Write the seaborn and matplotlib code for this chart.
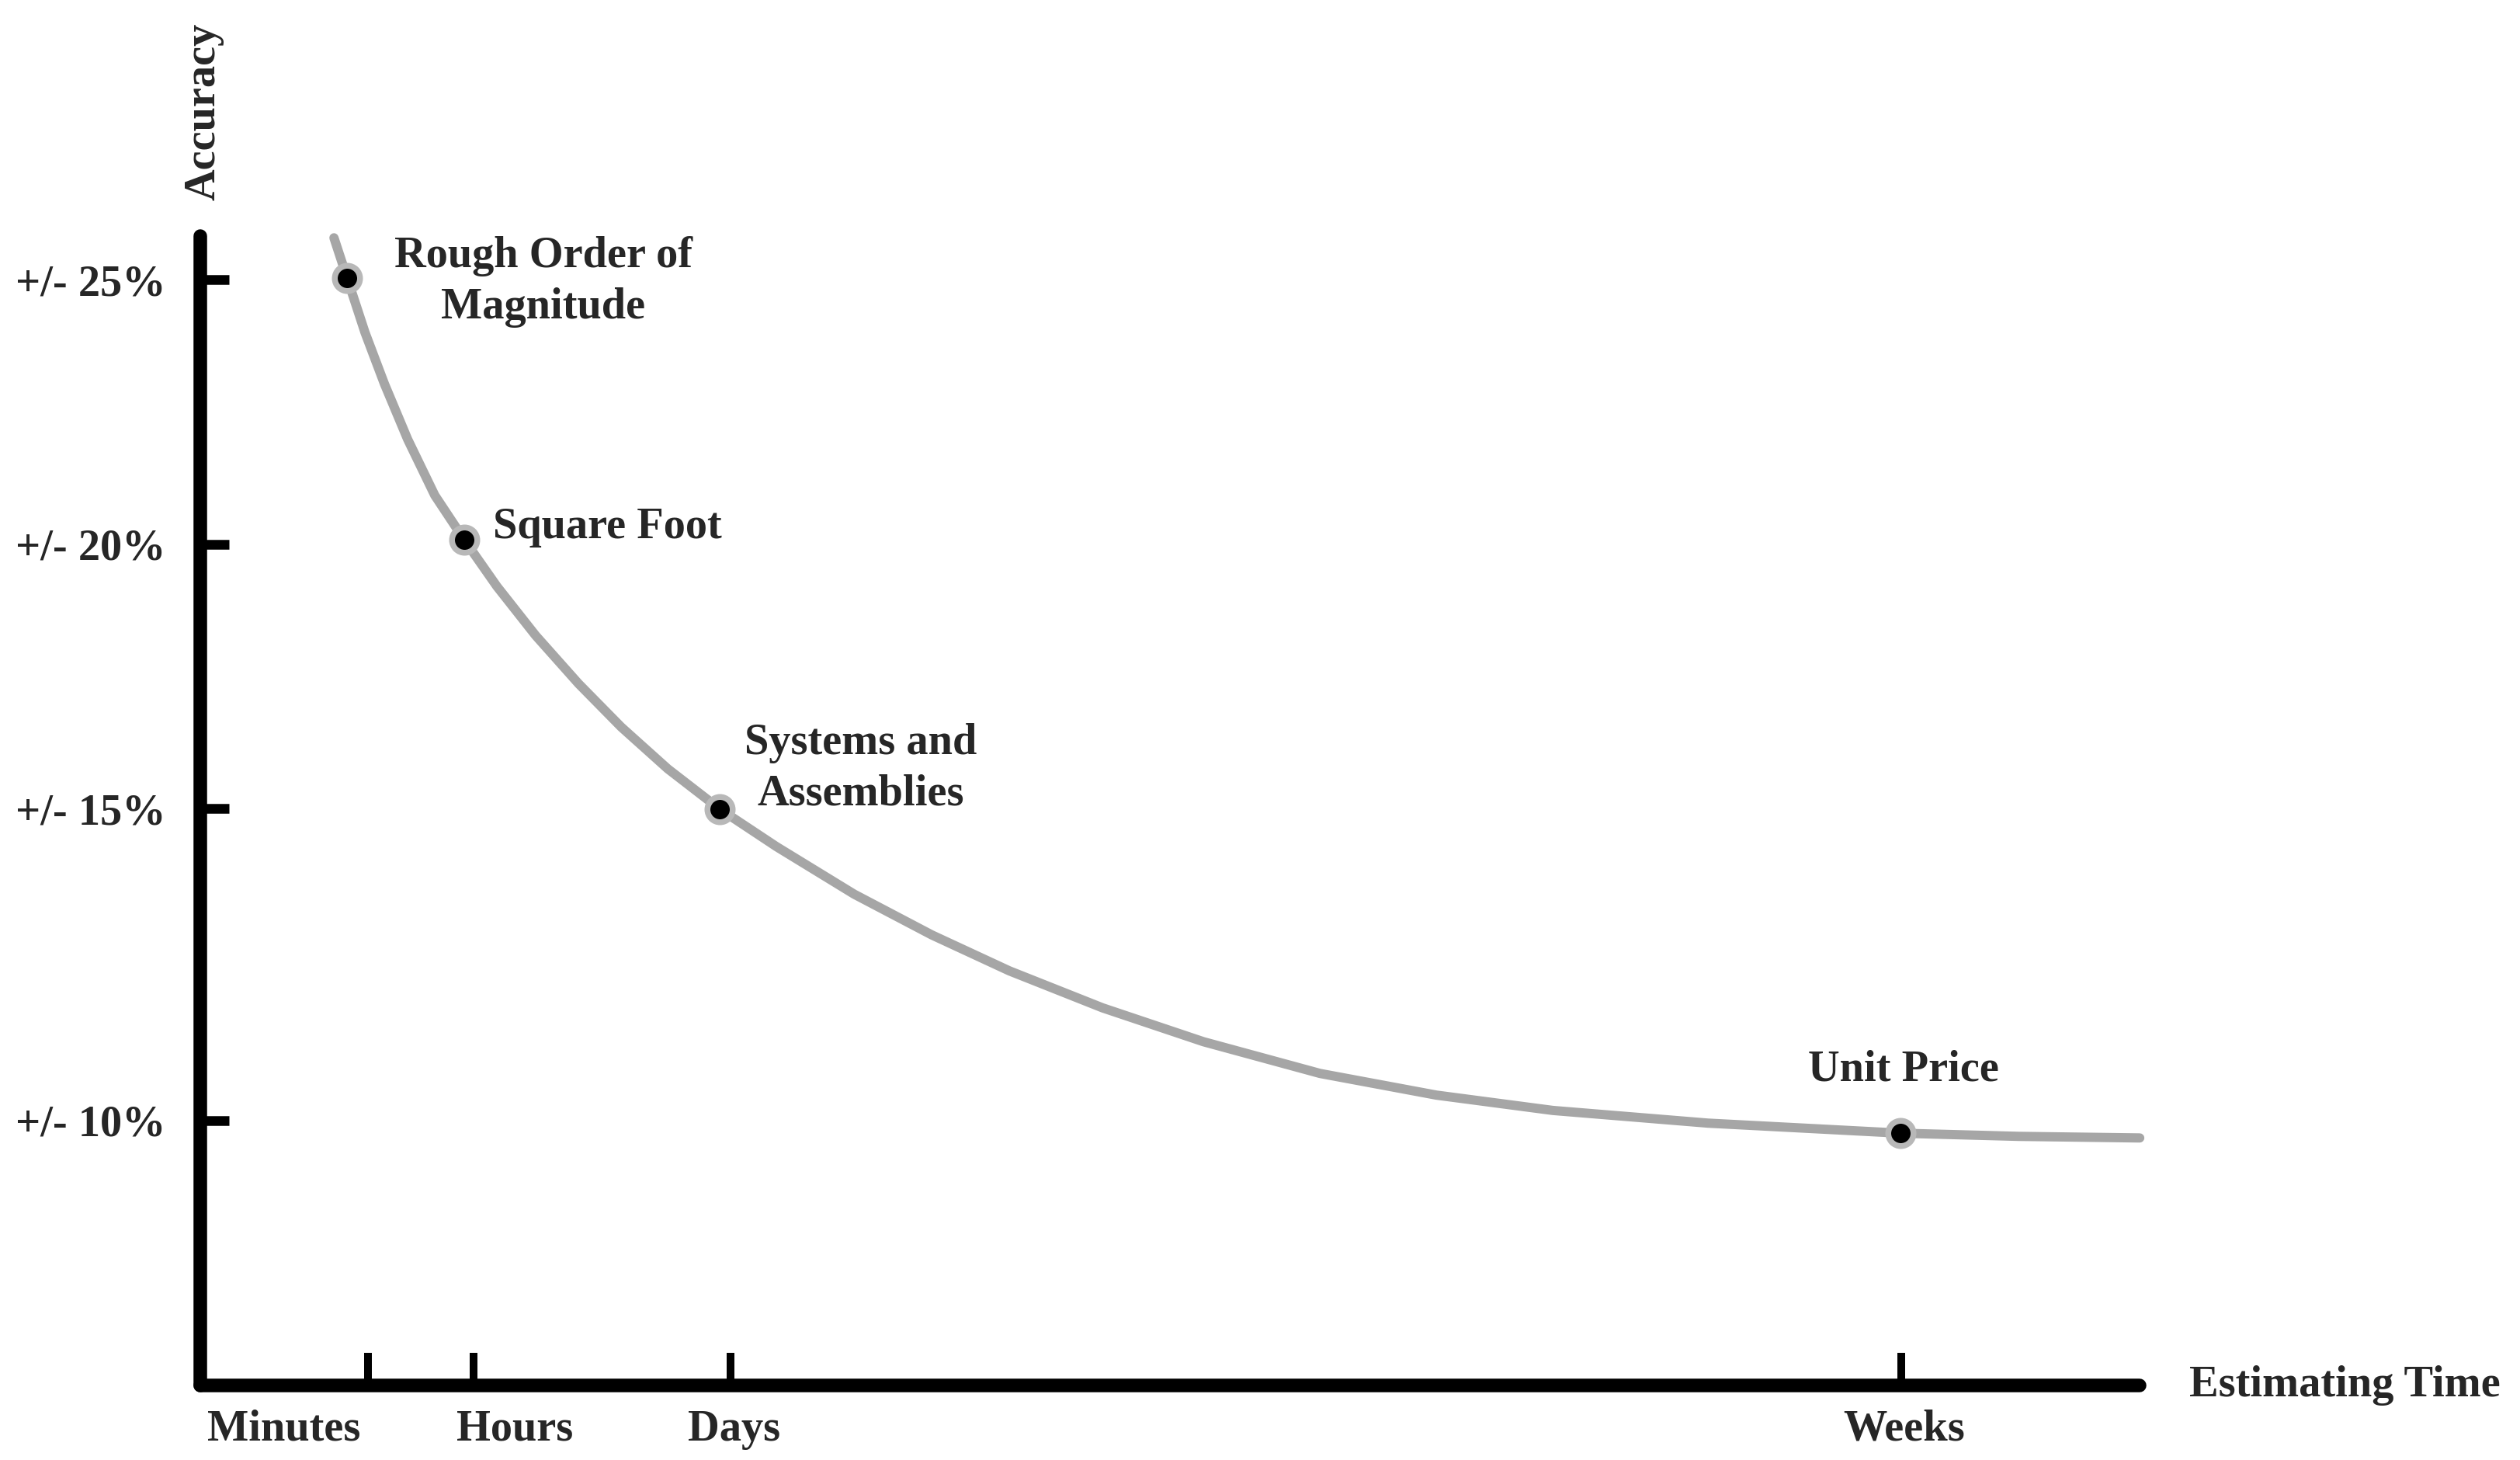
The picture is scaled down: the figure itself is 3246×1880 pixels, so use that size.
import numpy as np
import pandas as pd
import matplotlib
matplotlib.use("Agg")
import matplotlib.pyplot as plt
import seaborn as sns

# curve (x: estimating time, arbitrary units 0-100; y: accuracy scale)
curve_x = [6.89, 7.57, 8.49, 9.49, 10.69, 12.09, 13.61, 15.29, 17.29, 19.50, 21.70,
           24.10, 26.78, 29.70, 33.71, 37.71, 41.71, 46.52, 51.72, 57.73, 63.73,
           69.74, 77.74, 87.67, 93.76, 100.0]
curve_y = [25.79, 25.03, 24.00, 23.03, 21.98, 20.92, 20.08, 19.20, 18.27, 17.36, 16.54,
           15.75, 14.99, 14.28, 13.38, 12.61, 11.93, 11.23, 10.59, 9.99, 9.58,
           9.29, 9.05, 8.86, 8.80, 8.77]

# estimate methods
method_names = ["Rough Order of\nMagnitude", "Square Foot", "Systems and\nAssemblies", "Unit Price"]
method_x = [7.57, 13.61, 26.78, 87.67]
method_y = [25.03, 20.08, 14.99, 8.86]

# axis ticks
time_tick_x = [8.65, 14.09, 27.34, 87.71]
time_label_x = [4.32, 16.21, 27.54, 87.83]
time_labels = ["Minutes", "Hours", "Days", "Weeks"]
acc_tick_y = [25, 20, 15, 9.1]
acc_labels = ["+/- 25%", "+/- 20%", "+/- 15%", "+/- 10%"]

sns.set_theme(style="white")
plt.rcParams["font.family"] = ["Liberation Serif", "DejaVu Serif"]
plt.rcParams["font.weight"] = "bold"

fig = plt.figure(figsize=(16.23, 9.40), dpi=200)
ax = fig.add_axes([0.0795, 0.05106, 0.7696, 0.7875])

curve = pd.DataFrame({"x": curve_x, "y": curve_y})
sns.lineplot(data=curve, x="x", y="y", ax=ax, color="#a6a6a6", linewidth=4.3,
             estimator=None, sort=False, clip_on=False, solid_capstyle="round",
             solid_joinstyle="round")

pts = pd.DataFrame({"x": method_x, "y": method_y, "name": method_names})
sns.scatterplot(data=pts, x="x", y="y", ax=ax, s=137, color="black",
                edgecolor="#b8b8b8", linewidth=2.7, zorder=4, clip_on=False, legend=False)

# labels next to each point: offset in points, baseline of the last line
offsets = [(91, -18.7, "center"), (13.3, 0.7, "left"), (65.5, 1.8, "center"), (1.4, 24.5, "center")]
for (name, px, py), (dx, dy, ha) in zip(zip(method_names, method_x, method_y), offsets):
    ax.annotate(name, (px, py), xytext=(dx, dy), textcoords="offset points",
                ha=ha, va="baseline", fontsize=20.3, fontweight="bold", linespacing=1.34,
                multialignment="center")

ax.set_xlim(0, 100)
ax.set_ylim(4.09, 25.83)

for side in ["top", "right"]:
    ax.spines[side].set_visible(False)
for side in ["left", "bottom"]:
    ax.spines[side].set_linewidth(6.3)
    ax.spines[side].set_color("black")
    ax.spines[side].set_capstyle("round")

ax.set_yticks(acc_tick_y)
ax.set_yticklabels(acc_labels, fontsize=20.3, fontweight="bold")
ax.tick_params(axis="y", direction="in", length=13.3, width=4.5, color="black", pad=16, left=True)

ax.set_xticks(time_tick_x)
ax.set_xticklabels([])
ax.set_xticks(time_label_x, minor=True)
ax.set_xticklabels(time_labels, minor=True, fontsize=20.3, fontweight="bold")
ax.tick_params(axis="x", which="major", direction="in", length=15, width=3.6, color="black", bottom=True)
ax.tick_params(axis="x", which="minor", direction="in", length=0, pad=11, bottom=True)

ax.set_xlabel("")
ax.set_ylabel("Accuracy", fontsize=20.3, fontweight="bold")
ax.yaxis.set_label_coords(0.0016, 1.108)
ax.yaxis.label.set_va("center")

ax.text(102.55, 4.09, "Estimating Time", ha="left", va="center", fontsize=20.3,
        fontweight="bold", clip_on=False)

ax.grid(False)
fig.savefig("out.png", dpi=200, facecolor="white")
plt.close(fig)
